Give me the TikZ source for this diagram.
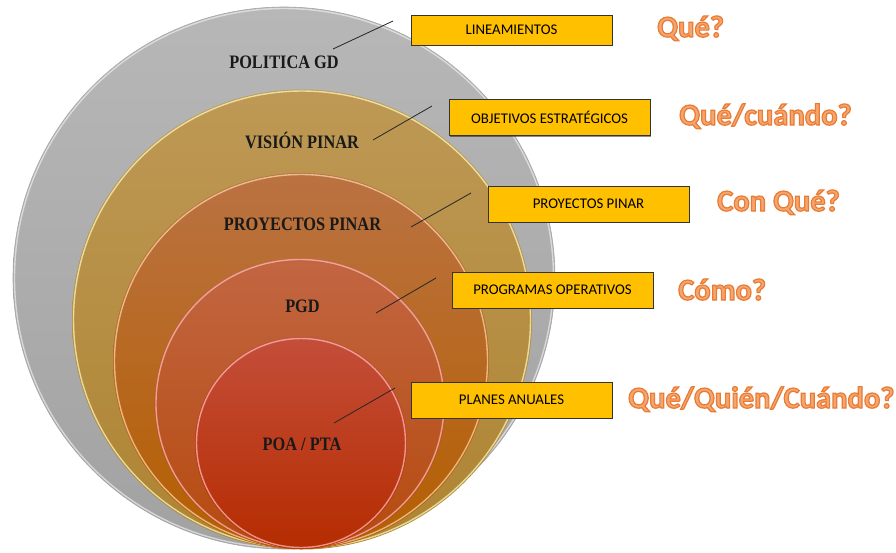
\documentclass[tikz,border=0pt]{standalone}
\usepackage{fontspec}
\setmainfont{Carlito}
\newfontfamily\lblfont{Liberation Serif}[FakeStretch=0.86]
\newfontfamily\boxfont{Carlito}
\usetikzlibrary{shadows}
\definecolor{gTop}{HTML}{B7B7B7}
\definecolor{gBot}{HTML}{A2A2A2}
\definecolor{tTop}{HTML}{BE9955}
\definecolor{tBot}{HTML}{AE8433}
\definecolor{oTop}{HTML}{BA7242}
\definecolor{oBot}{HTML}{B55F00}
\definecolor{pTop}{HTML}{C26642}
\definecolor{pBot}{HTML}{B54A0E}
\definecolor{rTop}{HTML}{C44E3A}
\definecolor{rBot}{HTML}{B52C00}
\definecolor{boxY}{HTML}{FFC000}
\definecolor{waFill}{HTML}{F3A66F}
\newcommand\waout[1]{\special{pdf:literal direct 2 Tr 1.2 w 0.922 0.478 0.2 RG}#1\special{pdf:literal direct 0 Tr}}
\begin{document}
\begin{tikzpicture}[x=1pt,y=-1pt,
  boxstyle/.style={draw=black!80, line width=0.8pt, fill=boxY, minimum width=201pt,
    minimum height=36pt, inner sep=0pt, text=black, font=\boxfont\fontsize{14.8}{16}\selectfont,
    drop shadow={shadow xshift=1.2pt, shadow yshift=-1.2pt, opacity=0.45, fill=black}},
  lbl/.style={anchor=base, inner sep=0pt, text=black!90, font=\lblfont\bfseries\fontsize{19}{20}\selectfont},
  wa/.style={anchor=base west, inner sep=0pt, text=waFill, font=\boxfont\bfseries\fontsize{30.5}{32}\selectfont},
  leader/.style={draw=black!85, line width=0.8pt},
  rim/.style={line width=1.4pt, opacity=0.7}]
\useasboundingbox (0,0) rectangle (896,552);
\fill[white] (0,0) rectangle (896,552);
% circles
\shade[top color=gTop, bottom color=gBot] (284,278) circle[radius=271];
\draw[rim, draw=white!85!gray] (284,278) circle[radius=269.5];
\draw[line width=0.6pt, draw=gray!70] (284,278) circle[radius=271];
\shade[top color=tTop, bottom color=tBot] (302,319.5) circle[radius=230];
\draw[rim, draw=yellow!25!white] (302,319.5) circle[radius=228.5];
\shade[top color=oTop, bottom color=oBot] (301,361) circle[radius=188];
\draw[rim, draw=orange!30!white] (301,361) circle[radius=186.5];
\shade[top color=pTop, bottom color=pBot] (300,403.5) circle[radius=145.5];
\draw[rim, draw=red!25!white] (300,403.5) circle[radius=144];
\shade[top color=rTop, bottom color=rBot] (301,443) circle[radius=106];
\draw[rim, draw=red!25!white] (301,443) circle[radius=104.5];
% inner labels
\node[lbl] (pol) at (284,68) {POLITICA GD};
\node[lbl] (vis) at (302,148) {VISIÓN PINAR};
\node[lbl] (pro) at (302.5,230) {PROYECTOS PINAR};
\node[lbl] (pgd) at (302.5,312) {PGD};
\node[lbl] (poa) at (302,450) {POA / PTA};
% boxes
\node[boxstyle, minimum height=30pt] (b1) at (511.5,30) {LINEAMIENTOS};
\node[boxstyle] (b2) at (549.5,117.5) {OBJETIVOS ESTRATÉGICOS};
\node[boxstyle] (b3) at (588.5,204) {PROYECTOS PINAR};
\node[boxstyle] (b4) at (552.5,290) {PROGRAMAS OPERATIVOS};
\node[boxstyle] (b5) at (511.5,400) {PLANES ANUALES};
% leader lines
\coordinate (l1a) at (333,49);  \coordinate (l1b) at (393,21);
\coordinate (l2a) at (373,140); \coordinate (l2b) at (432,106);
\coordinate (l3a) at (411,227); \coordinate (l3b) at (471,193);
\coordinate (l4a) at (376,313); \coordinate (l4b) at (436,278);
\coordinate (l5a) at (334,423); \coordinate (l5b) at (395,388);
\draw[leader] (l1a) -- (l1b);
\draw[leader] (l2a) -- (l2b);
\draw[leader] (l3a) -- (l3b);
\draw[leader] (l4a) -- (l4b);
\draw[leader] (l5a) -- (l5b);
% questions
\node[wa] (q1) at (657,37) {\waout{Qué?}};
\node[wa] (q2) at (679,125) {\waout{Qué/cuándo?}};
\node[wa] (q3) at (717,211) {\waout{Con Qué?}};
\node[wa] (q4) at (678,300) {\waout{Cómo?}};
\node[wa] (q5) at (628,408) {\waout{Qué/Quién/Cuándo?}};
\end{tikzpicture}
\end{document}
